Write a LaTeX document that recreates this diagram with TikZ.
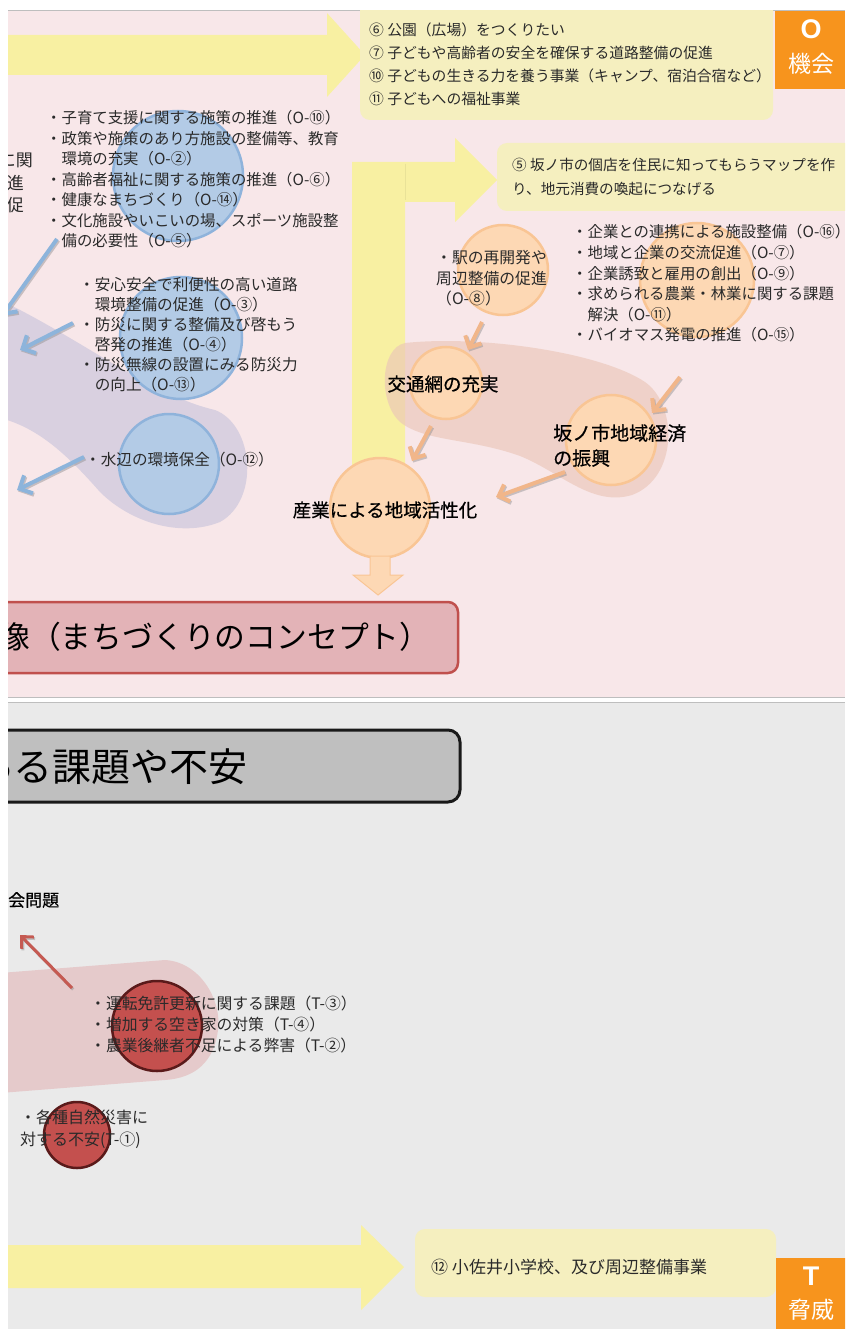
\documentclass[tikz,border=0pt]{standalone}
\usepackage{fontspec}
\newfontfamily\jp{Noto Sans CJK JP}
\newfontfamily\jpb[FakeBold=0.5]{Noto Sans CJK JP}
\newfontfamily\lat{Liberation Sans}
\usetikzlibrary{arrows.meta}
\newcommand\setfs[2]{\fontsize{#1}{#2}\selectfont}
\definecolor{pinkbg}{HTML}{F8E7E9}
\definecolor{graybg}{HTML}{EAEAEA}
\definecolor{sepline}{HTML}{BEBEBE}
\definecolor{yarrow}{HTML}{F8F0A2}
\definecolor{ybox}{HTML}{F5EFBF}
\definecolor{orangeO}{HTML}{F7941D}
\definecolor{bfill}{HTML}{B3CBE6}
\definecolor{bline}{HTML}{8FB3DB}
\definecolor{barr}{HTML}{8DB4DB}
\definecolor{pfill}{HTML}{FDD8B4}
\definecolor{pline}{HTML}{F9C594}
\definecolor{parr}{HTML}{F1B68A}
\definecolor{lav}{HTML}{D9D0E0}
\definecolor{peachband}{HTML}{EBC6B8}
\definecolor{rband}{HTML}{E5CACB}
\definecolor{redbox}{HTML}{E3B3B7}
\definecolor{redboxline}{HTML}{C0504D}
\definecolor{graybox}{HTML}{BFBFBF}
\definecolor{rfill}{HTML}{C4504E}
\definecolor{rline}{HTML}{5A1A1A}
\definecolor{rarr}{HTML}{C55A52}
\definecolor{txtc}{HTML}{2A2A2A}
\begin{document}
\begin{tikzpicture}[x=1pt,y=-1pt,
  txt/.style={inner sep=0pt,anchor=west,align=left,text=txtc,font=\jp\setfs{15.4}{20.5}},
  bcirc/.style={circle,fill=bfill,draw=bline,line width=2.5pt,inner sep=0pt,minimum size=#1},
  pcirc/.style={circle,fill=pfill,draw=pline,line width=2.5pt,inner sep=0pt,minimum size=#1},
  rcirc/.style={circle,fill=rfill,draw=rline,line width=2.5pt,inner sep=0pt,minimum size=#1},
  barrow/.style={draw=barr,line width=4pt,-{Straight Barb[length=10pt,width=20pt]}},
  parrow/.style={draw=parr,line width=4pt,-{Straight Barb[length=9pt,width=18pt]}},
  rarrow/.style={draw=rarr,line width=3pt,-{Straight Barb[length=9pt,width=17pt]}},
  shadow/.style={draw=black!45,opacity=0.45,transform canvas={xshift=1.2pt,yshift=-1.5pt}},
  yshape/.style={fill=yarrow},
  ybx/.style={fill=ybox,rounded corners=10pt},
]
\useasboundingbox (0,0) rectangle (845,1329);
\fill[white] (0,0) rectangle (845,1329);
% backgrounds
\fill[pinkbg] (8,10) rectangle (845,697);
\fill[graybg] (8,703) rectangle (845,1329);
\draw[sepline,line width=1.2pt] (8,10.5) -- (845,10.5);
\draw[sepline,line width=1.2pt] (8,697.5) -- (845,697.5);
\draw[sepline,line width=1.2pt] (8,702.5) -- (845,702.5);

\begin{scope}
\clip (8,11) rectangle (845,1329);

% ---------- blobs ----------
\fill[lav] (0,300) .. controls (80,338) and (150,395) .. (215,410)
  .. controls (254,425) and (260,500) .. (220,522)
  .. controls (180,538) and (130,522) .. (100,492)
  .. controls (70,458) and (40,428) .. (0,418) -- cycle;
\fill[rband] (0,973) -- (165,960) .. controls (200,962) and (222,1000) .. (218,1030)
  .. controls (214,1062) and (195,1078) .. (165,1080) -- (0,1093) -- cycle;

% ---------- yellow arrows and boxes ----------
\fill[yshape] (0,35) -- (327,35) -- (327,13) -- (365,55) -- (327,97) -- (327,75) -- (0,75) -- cycle;
\fill[yshape] (352,480) -- (352,162) -- (455,162) -- (455,138) -- (497,180) -- (455,222) -- (455,202) -- (405,202) -- (405,480) -- cycle;
\draw[yarrow!80!black!30!yarrow,line width=0.6pt] (405,164) -- (405,200);
\fill[yshape] (0,1245) -- (361,1245) -- (361,1225) -- (404,1267) -- (361,1310) -- (361,1288) -- (0,1288) -- cycle;
\fill[ybx] (360,-10) rectangle (773,120);
\fill[ybx] (497,143) rectangle (860,211);
\fill[ybx] (415,1229) rectangle (776,1297);

% peach band (over yellow column)
\fill[peachband,opacity=0.65] (405,343) .. controls (480,335) and (600,352) .. (645,382)
  .. controls (678,405) and (678,478) .. (632,495)
  .. controls (592,507) and (560,472) .. (520,456)
  .. controls (470,438) and (425,442) .. (400,422)
  .. controls (378,402) and (380,348) .. (405,343) -- cycle;

% ---------- circles ----------
\node[bcirc=130pt] (bc1) at (178,176) {};
\node[bcirc=122pt] (bc2) at (181,338) {};
\node[bcirc=100pt] (bc3) at (169,464) {};
\node[pcirc=90pt] (pc1) at (503,270) {};
\node[pcirc=114pt] (pc2) at (697,280) {};
\node[pcirc=72pt] (pc3) at (446,383) {};
\node[pcirc=90pt] (pc4) at (611,440) {};
\node[pcirc=100pt] (pc5) at (380,508) {};
\node[rcirc=90pt] (rc1) at (157,1026) {};
\node[rcirc=66pt] (rc2) at (77,1135) {};

% down block arrow below big circle
\fill[pfill,draw=pline,line width=1pt] (370,556) -- (390,556) -- (390,575) -- (403,575) -- (378,595) -- (353,575) -- (370,575) -- cycle;

% ---------- connectors ----------
\coordinate (b1s) at (57,239); \coordinate (b1e) at (2,316);
\coordinate (b2s) at (73,323); \coordinate (b2e) at (20,350);
\coordinate (b3s) at (84,457); \coordinate (b3e) at (17,490);
\coordinate (o1s) at (482,322); \coordinate (o1e) at (468,350);
\coordinate (o2s) at (431,426); \coordinate (o2e) at (412,461);
\coordinate (o3s) at (680,377); \coordinate (o3e) at (652,413);
\coordinate (o4s) at (565,472); \coordinate (o4e) at (496,497);
\coordinate (r1s) at (72,988); \coordinate (r1e) at (20,935);
\foreach \a in {b1,b2,b3} {\draw[barrow,shadow] (\a s) -- (\a e);}
\foreach \a in {o1,o2,o3,o4} {\draw[parrow,shadow] (\a s) -- (\a e);}
\draw[rarrow,shadow] (r1s) -- (r1e);
\foreach \a in {b1,b2,b3} {\draw[barrow] (\a s) -- (\a e);}
\foreach \a in {o1,o2,o3,o4} {\draw[parrow] (\a s) -- (\a e);}
\draw[rarrow] (r1s) -- (r1e);

% ---------- texts ----------
\node[txt,font=\jp\setfs{14.8}{23}] (tD) at (369,64.5) {⑥ 公園（広場）をつくりたい\\⑦ 子どもや高齢者の安全を確保する道路整備の促進\\⑩ 子どもの生きる力を養う事業（キャンプ、宿泊合宿など）\\⑪ 子どもへの福祉事業};
\node[txt,font=\jp\setfs{14.6}{24}] (tE) at (512,177) {⑤ 坂ノ市の個店を住民に知ってもらうマップを作\\り、地元消費の喚起につなげる};
\node[txt] (tA) at (46,179.5) {・子育て支援に関する施策の推進（O-⑩）\\・政策や施策のあり方施設の整備等、教育\\　環境の充実（O-②）\\・高齢者福祉に関する施策の推進（O-⑥）\\・健康なまちづくり（O-⑭）\\・文化施設やいこいの場、スポーツ施設整\\　備の必要性（O-⑤）};
\node[txt,anchor=east,font=\jp\setfs{17}{20}] (tL1) at (33,160) {に関};
\node[txt,anchor=east,font=\jp\setfs{17}{20}] (tL2) at (24,183) {進};
\node[txt,anchor=east,font=\jp\setfs{17}{20}] (tL3) at (24,205) {促};
\node[txt,font=\jp\setfs{15.6}{20}] (tB) at (79,335) {・安心安全で利便性の高い道路\\　環境整備の促進（O-③）\\・防災に関する整備及び啓もう\\　啓発の推進（O-④）\\・防災無線の設置にみる防災力\\　の向上（O-⑬）};
\node[txt,font=\jp\setfs{15.6}{20}] (tC) at (85,460) {・水辺の環境保全（O-⑫）};
\node[txt,font=\jp\setfs{15.4}{20.6}] (tF) at (572,283.5) {・企業との連携による施設整備（O-⑯）\\・地域と企業の交流促進（O-⑦）\\・企業誘致と雇用の創出（O-⑨）\\・求められる農業・林業に関する課題\\　解決（O-⑪）\\・バイオマス発電の推進（O-⑮）};
\node[txt,font=\jp\setfs{15.8}{20.5}] (tG) at (436,278.5) {・駅の再開発や\\周辺整備の促進\\（O-⑧）};
\node[txt,anchor=center,font=\jpb\setfs{18.5}{22},text=black] (tH) at (443,384) {交通網の充実};
\node[txt,font=\jpb\setfs{19}{25},text=black] (tI) at (553,445.5) {坂ノ市地域経済\\の振興};
\node[txt,anchor=center,font=\jpb\setfs{18.5}{22},text=black] (tJ) at (385,510) {産業による地域活性化};
\node[txt,font=\jpb\setfs{17}{20},text=black] (tK) at (8,900) {会問題};
\node[txt,font=\jp\setfs{15.8}{21}] (tM) at (90,1024) {・運転免許更新に関する課題（T-③）\\・増加する空き家の対策（T-④）\\・農業後継者不足による弊害（T-②）};
\node[txt,font=\jp\setfs{16}{22}] (tN) at (20,1129) {・各種自然災害に\\対する不安(T-①)};
\node[txt,font=\jp\setfs{17}{20}] (tP) at (431,1267) {⑫ 小佐井小学校、及び周辺整備事業};

% ---------- title boxes ----------
\draw[fill=redbox,draw=redboxline,line width=2.5pt,rounded corners=10pt] (-20,602) rectangle (458,673);
\node[txt,font=\jp\setfs{30.8}{34},text=black] (tR) at (-1,637) {像（まちづくりのコンセプト）};
\draw[fill=graybox,draw=black!90,line width=3pt,rounded corners=12pt] (-20,730) rectangle (460,802);
\node[txt,font=\jp\setfs{39}{42},text=black] (tS) at (-26,767) {ある課題や不安};

% ---------- O / T boxes ----------
\node[fill=orangeO,anchor=north west,minimum width=70pt,minimum height=78pt,inner sep=0pt] (oBox) at (775,11) {};
\node[inner sep=0pt,text=white,font=\lat\bfseries\setfs{27}{30}] (oL) at (811,29) {O};
\node[inner sep=0pt,text=white,font=\jp\setfs{23}{26}] (oK) at (811,64) {機会};
\node[fill=orangeO,anchor=north west,minimum width=70pt,minimum height=72pt,inner sep=0pt] (tBox) at (776,1258) {};
\node[inner sep=0pt,text=white,font=\lat\bfseries\setfs{27}{30}] (tT) at (811,1276) {T};
\node[inner sep=0pt,text=white,font=\jp\setfs{23}{26}] (tKy) at (811,1310) {脅威};
\end{scope}
\end{tikzpicture}
\end{document}
